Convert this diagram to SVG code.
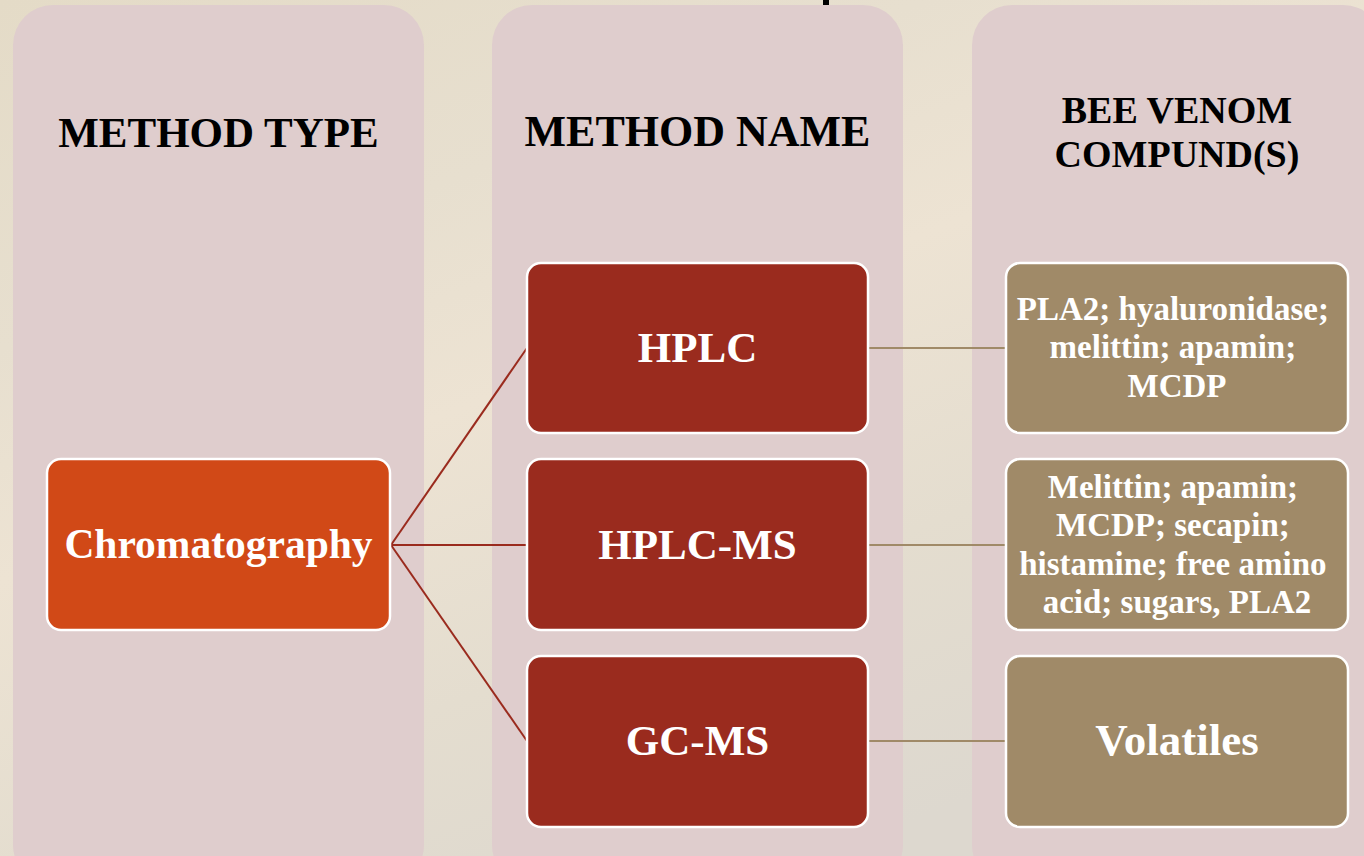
<svg xmlns="http://www.w3.org/2000/svg" width="1364" height="856" viewBox="0 0 1364 856">
  <defs>
    <linearGradient id="marble" x1="0" y1="0" x2="0.6" y2="1">
      <stop offset="0" stop-color="#e4dbc7"/>
      <stop offset="0.3" stop-color="#e7dfcf"/>
      <stop offset="0.5" stop-color="#ede3d3"/>
      <stop offset="0.75" stop-color="#e4ddcf"/>
      <stop offset="1" stop-color="#ddd8cf"/>
    </linearGradient>
  </defs>
  <style>
    .col { fill: #dfcdcd; }
    .head { font-family: "Liberation Serif", "DejaVu Serif", serif; font-weight: bold; fill: #000000; text-anchor: middle; }
    .box { stroke: #ffffff; stroke-width: 2.5; }
    .type { fill: #d14917; }
    .name { fill: #9a2b1e; }
    .comp { fill: #a08a68; }
    .lbl { font-family: "Liberation Serif", "DejaVu Serif", serif; font-weight: bold; fill: #ffffff; text-anchor: middle; }
    .link-red { stroke: #9a2b1e; stroke-width: 2; fill: none; }
    .link-tan { stroke: #a08a68; stroke-width: 2; fill: none; }
  </style>

  <!-- background -->
  <rect x="0" y="0" width="1364" height="856" fill="url(#marble)"/>

  <!-- fragment of the slide title above the frame -->
  <rect x="823" y="0" width="6" height="6" fill="#000000"/>

  <!-- column panels -->
  <g id="columns">
    <rect class="col" x="13" y="5" width="411" height="880" rx="40"/>
    <rect class="col" x="492" y="5" width="411" height="880" rx="40"/>
    <rect class="col" x="972" y="5" width="411" height="880" rx="40"/>
  </g>

  <!-- column headings -->
  <g id="heading-type">
    <text class="head" x="218.5" y="147" font-size="43">METHOD TYPE</text>
  </g>
  <g id="heading-name">
    <text class="head" x="697.5" y="146" font-size="44">METHOD NAME</text>
  </g>
  <g id="heading-compound">
    <text class="head" x="1177" y="123" font-size="38">BEE VENOM</text>
    <text class="head" x="1177" y="167" font-size="38">COMPUND(S)</text>
  </g>

  <!-- connectors -->
  <g id="connectors">
    <line class="link-red" x1="391" y1="545" x2="527" y2="348"/>
    <line class="link-red" x1="391" y1="545" x2="527" y2="545"/>
    <line class="link-red" x1="391" y1="545" x2="527" y2="741"/>
    <line class="link-tan" x1="868" y1="348" x2="1006" y2="348"/>
    <line class="link-tan" x1="868" y1="545" x2="1006" y2="545"/>
    <line class="link-tan" x1="868" y1="741" x2="1006" y2="741"/>
  </g>

  <!-- method type -->
  <g id="node-chromatography">
    <rect class="box type" x="47" y="459" width="343" height="171" rx="14"/>
    <text class="lbl" x="218.5" y="558" font-size="41.5">Chromatography</text>
  </g>

  <!-- method names -->
  <g id="node-hplc">
    <rect class="box name" x="527" y="263" width="341" height="170" rx="14"/>
    <text class="lbl" x="697.5" y="362" font-size="43">HPLC</text>
  </g>
  <g id="node-hplc-ms">
    <rect class="box name" x="527" y="459" width="341" height="171" rx="14"/>
    <text class="lbl" x="697.5" y="559" font-size="43">HPLC-MS</text>
  </g>
  <g id="node-gc-ms">
    <rect class="box name" x="527" y="656" width="341" height="171" rx="14"/>
    <text class="lbl" x="697.5" y="755" font-size="43">GC-MS</text>
  </g>

  <!-- compounds -->
  <g id="node-compounds-hplc">
    <rect class="box comp" x="1006" y="263" width="342" height="170" rx="14"/>
    <text class="lbl" x="1177" font-size="33">
      <tspan x="1177" y="320">PLA2; hyaluronidase;</tspan>
      <tspan x="1177" y="358">melittin; apamin;</tspan>
      <tspan x="1177" y="397">MCDP</tspan>
    </text>
  </g>
  <g id="node-compounds-hplc-ms">
    <rect class="box comp" x="1006" y="459" width="342" height="171" rx="14"/>
    <text class="lbl" x="1177" font-size="33">
      <tspan x="1177" y="498">Melittin; apamin;</tspan>
      <tspan x="1177" y="536">MCDP; secapin;</tspan>
      <tspan x="1177" y="575">histamine; free amino</tspan>
      <tspan x="1177" y="613">acid; sugars, PLA2</tspan>
    </text>
  </g>
  <g id="node-compounds-gc-ms">
    <rect class="box comp" x="1006" y="656" width="342" height="171" rx="14"/>
    <text class="lbl" x="1177" y="755" font-size="45">Volatiles</text>
  </g>
</svg>
